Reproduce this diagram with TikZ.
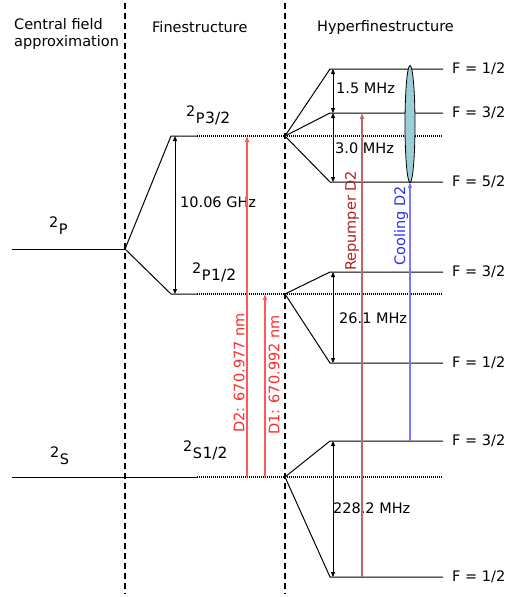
\documentclass[tikz,border=0pt]{standalone}
\usepackage{fontspec}
\setmainfont{DejaVu Sans}
\usetikzlibrary{arrows.meta,positioning,shapes.geometric}
\definecolor{dline}{HTML}{FF5A5A}
\definecolor{dtext}{HTML}{FF2A2A}
\definecolor{repline}{HTML}{C46464}
\definecolor{reptext}{HTML}{B01E1E}
\definecolor{coolline}{HTML}{7878FF}
\definecolor{cooltext}{HTML}{2A2AFF}
\definecolor{lensfill}{HTML}{9CCED7}
\newcommand{\specterm}[3]{{\fontsize{14.5}{17}\selectfont\raisebox{7pt}{#1}}\kern0.5pt{\fontsize{14.5}{17}\selectfont #2}\kern0.5pt{\fontsize{15.5}{18}\selectfont #3}}

\begin{document}
\begin{tikzpicture}[x=1pt, y=-1pt, font=\fontsize{14.5}{17}\selectfont,
  sep/.style={line width=1.2pt, dash pattern=on 6pt off 4pt},
  level/.style={line width=1pt},
  virtual/.style={line width=1.2pt, dash pattern=on 1pt off 1pt},
  gap/.style={{Triangle[length=5pt,width=4pt]}-{Triangle[length=5pt,width=4pt]}, line width=0.8pt},
  laser/.style={-{Triangle[length=6pt,width=4pt]}, line width=1.3pt},
  term/.style={anchor=base west, inner sep=0pt},
  flabel/.style={anchor=west, inner sep=0pt}]

\useasboundingbox (0,0) rectangle (507,597);

\coordinate (sepA top) at (125,3);
\coordinate (sepA bot) at (125,594);
\coordinate (sepB top) at (285,3);
\coordinate (sepB bot) at (285,594);
\draw[sep] (sepA top) -- (sepA bot);
\draw[sep] (sepB top) -- (sepB bot);

\node (central) [anchor=north west, align=left, inner sep=0pt] at (14,18) {Central field\\approximation};
\node (fine) [term] at (152,32) {Finestructure};
\node (hyper) [term] at (317,31) {Hyperfinestructure};

% central field
\coordinate (p0) at (12,249);
\coordinate (cP) at (125,249);
\coordinate (s0) at (12,477);
\draw[level] (p0) -- (cP);
\node (termP) [term] at (49,234) {\specterm{2}{P}{}};
\node (termS) [term] at (50,464) {\specterm{2}{S}{}};

% finestructure
\coordinate (p32a) at (171,136);
\coordinate (p32b) at (197,136);
\coordinate (p32c) at (285,136);
\coordinate (p32d) at (443,136);
\coordinate (p12a) at (171,294);
\coordinate (p12b) at (197,294);
\coordinate (p12c) at (285,294);
\coordinate (p12d) at (443,294);
\coordinate (s12b) at (197,477);
\coordinate (s12c) at (285,477);
\coordinate (s12d) at (443,477);
\draw[level] (cP) -- (p32a) -- (p32b);
\draw[level] (cP) -- (p12a) -- (p12b);
\draw[level] (s0) -- (s12b);
\draw[virtual] (p32b) -- (p32d);
\draw[virtual] (p12b) -- (p12d);
\draw[virtual] (s12b) -- (s12d);
\draw[gap] ([xshift=4pt]p32a) -- ([xshift=4pt]p12a);
\node (fineGap) [term] at (180,207) {10.06 GHz};
\node (termP32) [term] at (186,123) {\specterm{2}{P}{3/2}};
\node (termP12) [term] at (192,280) {\specterm{2}{P}{1/2}};
\node (termS12) [term] at (183,458) {\specterm{2}{S}{1/2}};

% hyperfinestructure
\coordinate (hf1a) at (330,69);
\coordinate (hf1b) at (443,69);
\coordinate (hf2a) at (330,113);
\coordinate (hf2b) at (443,113);
\coordinate (hf3a) at (330,182);
\coordinate (hf3b) at (443,182);
\coordinate (hf4a) at (330,272);
\coordinate (hf4b) at (443,272);
\coordinate (hf5a) at (330,363);
\coordinate (hf5b) at (443,363);
\coordinate (hf6a) at (330,441);
\coordinate (hf6b) at (443,441);
\coordinate (hf7a) at (330,577);
\coordinate (hf7b) at (443,577);
\draw[level] (p32c) -- (hf1a) -- (hf1b);
\draw[level] (p32c) -- (hf2a) -- (hf2b);
\draw[level] (p32c) -- (hf3a) -- (hf3b);
\draw[level] (p12c) -- (hf4a) -- (hf4b);
\draw[level] (p12c) -- (hf5a) -- (hf5b);
\draw[level] (s12c) -- (hf6a) -- (hf6b);
\draw[level] (s12c) -- (hf7a) -- (hf7b);
\draw[gap] ([xshift=3pt]hf1a) -- ([xshift=3pt]hf2a);
\draw[gap] ([xshift=3pt]hf2a) -- ([xshift=3pt]hf3a);
\draw[gap] ([xshift=3pt]hf4a) -- ([xshift=3pt]hf5a);
\draw[gap] ([xshift=3pt]hf6a) -- ([xshift=3pt]hf7a);
\node (gap1) [term] at (336,93) {1.5 MHz};
\node (gap2) [term] at (335,153) {3.0 MHz};
\node (gap3) [term] at (339,323) {26.1 MHz};
\node (gap4) [term] at (333,513) {228.2 MHz};
\node (f1) [flabel, right=9pt of hf1b] {F = 1/2};
\node (f2) [flabel, right=9pt of hf2b] {F = 3/2};
\node (f3) [flabel, right=9pt of hf3b] {F = 5/2};
\node (f4) [flabel, right=9pt of hf4b] {F = 3/2};
\node (f5) [flabel, right=9pt of hf5b] {F = 1/2};
\node (f6) [flabel, right=9pt of hf6b] {F = 3/2};
\node (f7) [flabel, right=9pt of hf7b] {F = 1/2};

% transitions
\coordinate (d2lo) at (247,477);
\coordinate (d2hi) at (247,136);
\coordinate (d1lo) at (265,477);
\coordinate (d1hi) at (265,294);
\coordinate (replo) at (362,577);
\coordinate (rephi) at (362,113);
\coordinate (coollo) at (410,441);
\coordinate (coolhi) at (410,182);
\draw[laser, dline] (d2lo) -- (d2hi);
\draw[laser, dline] (d1lo) -- (d1hi);
\draw[laser, repline] (replo) -- (rephi);
\draw[laser, coolline] (coollo) -- (coolhi);
\node (d2text) [rotate=90, text=dtext, inner sep=0pt] at (239,373) {D2: 670.977 nm};
\node (d1text) [rotate=90, text=dtext, inner sep=0pt] at (274,375) {D1: 670.992 nm};
\node (reptext) [rotate=90, text=reptext, inner sep=0pt] at (352,221) {Repumper D2};
\node (cooltext) [rotate=90, text=cooltext, inner sep=0pt] at (401,226) {Cooling D2};
\node (lens) [ellipse, draw, fill=lensfill, line width=0.8pt, inner sep=0pt,
  minimum width=10pt, minimum height=117pt] at (410,124) {};
\end{tikzpicture}
\end{document}
